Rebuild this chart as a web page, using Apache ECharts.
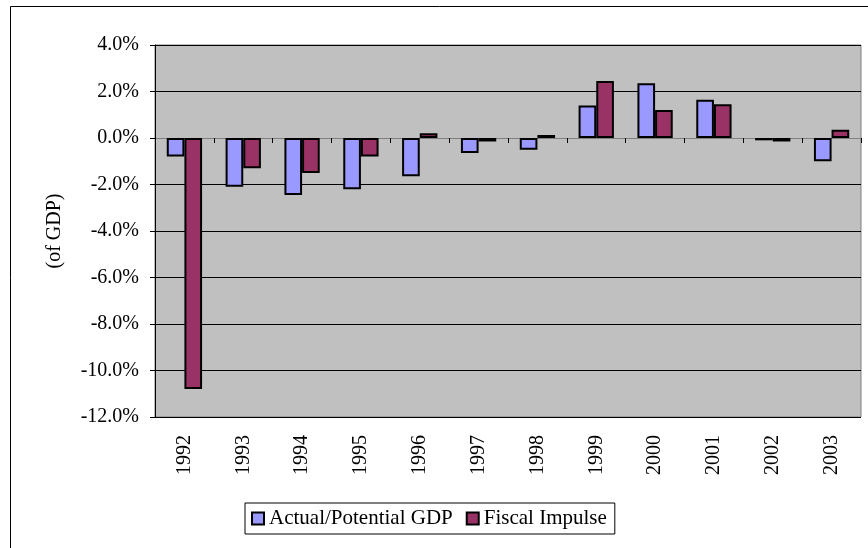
<!DOCTYPE html>
<html>
<head>
<meta charset="utf-8">
<script src="https://cdn.jsdelivr.net/npm/echarts@6/dist/echarts.min.js"></script>
<style>
  html, body { margin: 0; padding: 0; background: #fff; }
  #chart { width: 868px; height: 548px; }
</style>
</head>
<body>
<div id="chart"></div>
<script>
var years = ['1992', '1993', '1994', '1995', '1996', '1997', '1998', '1999', '2000', '2001', '2002', '2003'];
var actualPotential = [-0.8, -2.1, -2.45, -2.2, -1.65, -0.65, -0.5, 1.4, 2.35, 1.65, -0.1, -1.0];
var fiscalImpulse = [-10.8, -1.3, -1.5, -0.8, 0.2, -0.15, 0.13, 2.45, 1.2, 1.45, -0.15, 0.35];

var font = 'Liberation Serif';

var option = {
    animation: false,
    backgroundColor: '#fff',
    graphic: [{
        type: 'rect',
        shape: { x: 10.5, y: 6.5, width: 900, height: 600 },
        style: { fill: 'none', stroke: '#000', lineWidth: 1 },
        z: -1
    }],
    grid: {
        left: 155, top: 45, right: 7, bottom: 131,
        show: true,
        backgroundColor: '#c0c0c0',
        borderColor: '#808080',
        borderWidth: 1
    },
    legend: {
        left: 245, top: 503,
        icon: 'rect',
        itemWidth: 12, itemHeight: 12, itemGap: 13,
        padding: [5, 8, 5, 6],
        borderColor: '#000', borderWidth: 1,
        textStyle: { fontFamily: font, fontSize: 21, color: '#000' },
        data: ['Actual/Potential GDP', 'Fiscal Impulse']
    },
    xAxis: [{
        type: 'category',
        data: years,
        axisLine: { onZero: true, lineStyle: { color: '#808080', width: 1 } },
        axisTick: { show: true, inside: false, length: 5, lineStyle: { color: '#000' } },
        axisLabel: { show: false }
    }, {
        type: 'category',
        data: years,
        position: 'bottom',
        axisLine: { show: false, onZero: false },
        axisTick: { show: false },
        axisLabel: { rotate: 90, margin: 18, fontFamily: font, fontSize: 20, color: '#000' }
    }],
    yAxis: {
        type: 'value',
        min: -12, max: 4, interval: 2,
        name: '(of GDP)',
        nameLocation: 'middle',
        nameGap: 90,
        nameTextStyle: { fontFamily: font, fontSize: 20, color: '#000' },
        axisLine: { show: true, lineStyle: { color: '#000' } },
        axisTick: { show: true, length: 5, lineStyle: { color: '#000' } },
        axisLabel: {
            margin: 16, fontFamily: font, fontSize: 20, color: '#000',
            formatter: function (v) { return v.toFixed(1) + '%'; }
        },
        splitLine: { show: true, lineStyle: { color: '#000', width: 1 } }
    },
    series: [{
        name: 'Actual/Potential GDP',
        type: 'bar',
        xAxisIndex: 0,
        data: actualPotential,
        barGap: '0%',
        barCategoryGap: '40%',
        itemStyle: { color: '#9999ff', borderColor: '#000', borderWidth: 2 }
    }, {
        name: 'Fiscal Impulse',
        type: 'bar',
        xAxisIndex: 0,
        data: fiscalImpulse,
        itemStyle: { color: '#993366', borderColor: '#000', borderWidth: 2 }
    }]
};

var chart = echarts.init(document.getElementById('chart'));
chart.setOption(option);
</script>
</body>
</html>
